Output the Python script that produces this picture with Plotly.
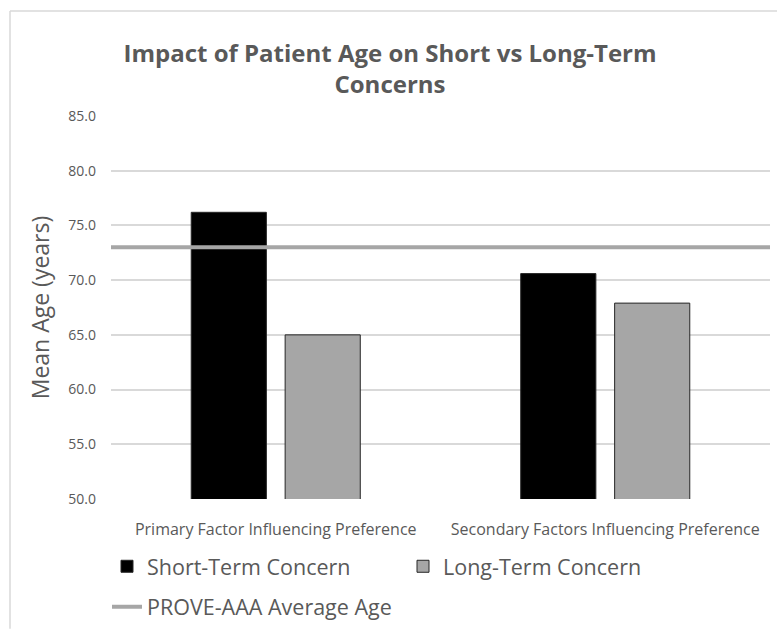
import plotly.graph_objects as go

# Data
categories = ["Primary Factor Influencing Preference", "Secondary Factors Influencing Preference"]
short_term = [76.2, 70.6]
long_term = [65.0, 67.9]
prove_avg_age = 73.0
y_ticks = [50, 55, 60, 65, 70, 75, 80, 85]

W, H = 777, 634
L, R, T, B = 111, 7, 116, 131
PW, PH = W - L - R, H - T - B

def px_x(p):
    return (p - L) / PW

def px_y(p):
    return (H - B - p) / PH

TEXT = "#595959"
FONT = "Open Sans"

fig = go.Figure()
fig.add_trace(go.Bar(
    x=categories, y=short_term, name="Short-Term Concern",
    marker=dict(color="#000000", line=dict(color="#262626", width=1)),
    legend="legend",
))
fig.add_trace(go.Bar(
    x=categories, y=long_term, name="Long-Term Concern",
    marker=dict(color="#a6a6a6", line=dict(color="#262626", width=1)),
    legend="legend",
))
fig.add_trace(go.Scatter(
    x=[0, 1], y=[prove_avg_age, prove_avg_age], xaxis="x2", mode="lines",
    name="PROVE-AAA Average Age", line=dict(color="#a6a6a6", width=4),
    legend="legend2",
))

fig.update_layout(
    width=W, height=H,
    margin=dict(l=L, r=R, t=T, b=B),
    paper_bgcolor="white", plot_bgcolor="white",
    font=dict(family=FONT, color=TEXT),
    title=dict(
        text="<b>Impact of Patient Age on Short vs Long-Term<br>Concerns</b>",
        x=390 / W, xanchor="center", y=1 - 62 / H, yanchor="top",
        font=dict(size=24, color=TEXT, family=FONT),
    ),
    barmode="group", bargap=0.43, bargroupgap=0.2,
    xaxis=dict(
        showgrid=False, showline=False, ticks="", tickfont=dict(size=16, color=TEXT),
        ticklabelstandoff=19,
    ),
    xaxis2=dict(overlaying="x", range=[0, 1], visible=False),
    yaxis=dict(
        range=[50, 85], tickvals=y_ticks, tickformat=".1f",
        showgrid=True, gridcolor="#d9d9d9", gridwidth=1.5,
        zeroline=False, showline=False, ticks="",
        tickfont=dict(size=14, color=TEXT), ticklabelstandoff=14,
        title=dict(text="Mean Age (years)", font=dict(size=23, color=TEXT), standoff=12),
    ),
    legend=dict(
        orientation="h", x=px_x(107), y=px_y(571), xanchor="left", yanchor="middle",
        entrywidth=251, entrywidthmode="pixels",
        font=dict(size=21.5, color=TEXT), bgcolor="rgba(0,0,0,0)",
    ),
    legend2=dict(
        orientation="h", x=px_x(107), y=px_y(612), xanchor="left", yanchor="middle",
        font=dict(size=21.5, color=TEXT), bgcolor="rgba(0,0,0,0)",
    ),
    showlegend=True,
)

# Chart frame: left and top edges
frame = dict(color="#d9d9d9", width=1.5)
fig.add_shape(type="line", xref="paper", yref="paper",
              x0=px_x(10), x1=px_x(W), y0=px_y(10), y1=px_y(10), line=frame)
fig.add_shape(type="line", xref="paper", yref="paper",
              x0=px_x(10), x1=px_x(10), y0=px_y(10), y1=px_y(H), line=frame)

fig.write_html("out.html")
